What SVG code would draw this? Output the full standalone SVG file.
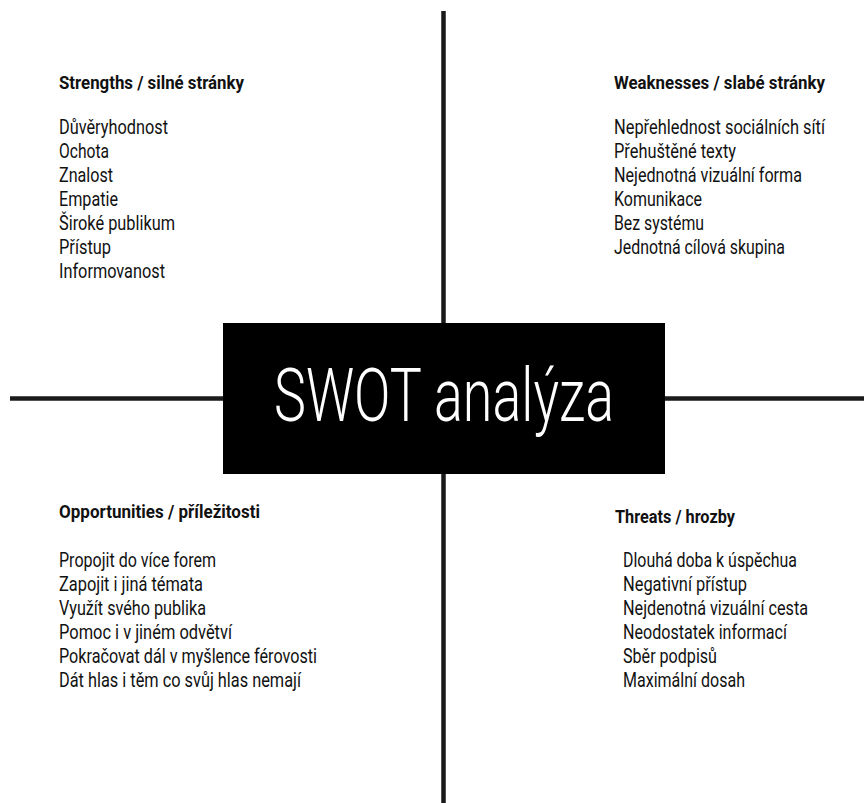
<svg xmlns="http://www.w3.org/2000/svg" width="864" height="803" viewBox="0 0 864 803">
<style>
.h{font-family:'Liberation Sans Narrow','Roboto','Liberation Sans',sans-serif;font-weight:bold;font-size:18.5px;fill:#111}
.t{font-family:'Liberation Sans Narrow','Roboto','Liberation Sans',sans-serif;font-size:20px;fill:#111}
.title{font-family:'Liberation Sans Narrow','Roboto','Liberation Sans',sans-serif;font-weight:300;font-size:74px;fill:#fff}
.ln{stroke:#1a1a1a;stroke-width:4.5;fill:none}
</style>
<rect width="864" height="803" fill="#fff"/>
<g id="connectors">
<line class="ln" x1="443.5" y1="11" x2="443.5" y2="803"/>
<line class="ln" x1="10" y1="398.5" x2="864" y2="398.5"/>
</g>
<g id="swot">
<rect x="223" y="323" width="442" height="151" fill="#000"/>
<text class="title" x="274" y="421" textLength="340" lengthAdjust="spacingAndGlyphs">SWOT analýza</text>
</g>
<g id="strengths">
<text class="h" x="59" y="89" textLength="185" lengthAdjust="spacingAndGlyphs">Strengths / silné stránky</text>
<text class="t" x="59" y="134" textLength="109" lengthAdjust="spacingAndGlyphs">Důvěryhodnost</text>
<text class="t" x="59" y="158" textLength="50" lengthAdjust="spacingAndGlyphs">Ochota</text>
<text class="t" x="59" y="182" textLength="54" lengthAdjust="spacingAndGlyphs">Znalost</text>
<text class="t" x="59" y="206" textLength="59" lengthAdjust="spacingAndGlyphs">Empatie</text>
<text class="t" x="59" y="230" textLength="116" lengthAdjust="spacingAndGlyphs">Široké publikum</text>
<text class="t" x="59" y="254" textLength="52" lengthAdjust="spacingAndGlyphs">Přístup</text>
<text class="t" x="59" y="278" textLength="106" lengthAdjust="spacingAndGlyphs">Informovanost</text>
</g>
<g id="weaknesses">
<text class="h" x="614" y="89" textLength="211" lengthAdjust="spacingAndGlyphs">Weaknesses / slabé stránky</text>
<text class="t" x="614" y="134" textLength="211" lengthAdjust="spacingAndGlyphs">Nepřehlednost sociálních sítí</text>
<text class="t" x="614" y="158" textLength="122" lengthAdjust="spacingAndGlyphs">Přehuštěné texty</text>
<text class="t" x="614" y="182" textLength="188" lengthAdjust="spacingAndGlyphs">Nejednotná vizuální forma</text>
<text class="t" x="614" y="206" textLength="88" lengthAdjust="spacingAndGlyphs">Komunikace</text>
<text class="t" x="614" y="230" textLength="90" lengthAdjust="spacingAndGlyphs">Bez systému</text>
<text class="t" x="614" y="254" textLength="171" lengthAdjust="spacingAndGlyphs">Jednotná cílová skupina</text>
</g>
<g id="opportunities">
<text class="h" x="59" y="518" textLength="201" lengthAdjust="spacingAndGlyphs">Opportunities / příležitosti</text>
<text class="t" x="59" y="567" textLength="157" lengthAdjust="spacingAndGlyphs">Propojit do více forem</text>
<text class="t" x="59" y="591" textLength="144" lengthAdjust="spacingAndGlyphs">Zapojit i jiná témata</text>
<text class="t" x="59" y="615" textLength="147" lengthAdjust="spacingAndGlyphs">Využít svého publika</text>
<text class="t" x="59" y="639" textLength="173" lengthAdjust="spacingAndGlyphs">Pomoc i v jiném odvětví</text>
<text class="t" x="59" y="663" textLength="258" lengthAdjust="spacingAndGlyphs">Pokračovat dál v myšlence férovosti</text>
<text class="t" x="59" y="687" textLength="242" lengthAdjust="spacingAndGlyphs">Dát hlas i těm co svůj hlas nemají</text>
</g>
<g id="threats">
<text class="h" x="615" y="523" textLength="120" lengthAdjust="spacingAndGlyphs">Threats / hrozby</text>
<text class="t" x="623" y="567" textLength="174" lengthAdjust="spacingAndGlyphs">Dlouhá doba k úspěchua</text>
<text class="t" x="623" y="591" textLength="124" lengthAdjust="spacingAndGlyphs">Negativní přístup</text>
<text class="t" x="623" y="615" textLength="185" lengthAdjust="spacingAndGlyphs">Nejdenotná vizuální cesta</text>
<text class="t" x="623" y="639" textLength="164" lengthAdjust="spacingAndGlyphs">Neodostatek informací</text>
<text class="t" x="623" y="663" textLength="94" lengthAdjust="spacingAndGlyphs">Sběr podpisů</text>
<text class="t" x="623" y="687" textLength="122" lengthAdjust="spacingAndGlyphs">Maximální dosah</text>
</g>
</svg>
